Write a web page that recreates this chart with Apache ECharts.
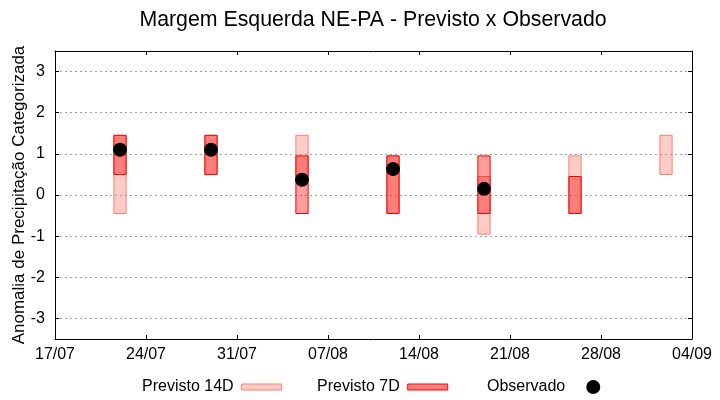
<!DOCTYPE html>
<html>
<head>
<meta charset="utf-8">
<script src="https://cdn.jsdelivr.net/npm/echarts@6/dist/echarts.min.js"></script>
<style>html,body{margin:0;padding:0;background:#fff}#c{width:720px;height:400px}</style>
</head>
<body>
<div id="c"></div>
<script>
const startDate = '17/07';
const endDate = '04/09';
const dates = ['22/07', '29/07', '05/08', '12/08', '19/08', '26/08', '02/09'];
const prev14Low  = [-0.45, 0.5, 0.45, -0.45, -0.95, -0.45, 0.5];
const prev14High = [1.45, 1.45, 1.45, 0.95, 0.45, 0.95, 1.45];
const prev7Low   = [0.5, 0.5, -0.45, -0.45, -0.45, -0.45, null];
const prev7High  = [1.45, 1.45, 0.95, 0.95, 0.95, 0.45, null];
const observed   = [1.10, 1.10, 0.37, 0.63, 0.15, null, null];

const YEAR = 2020;
function toDay(s) {
  const [d, m] = s.split('/').map(Number);
  return Date.UTC(YEAR, m - 1, d);
}
const t0 = toDay(startDate);
const DAY = 86400000;
const off = s => Math.round((toDay(s) - t0) / DAY);
const xMax = off(endDate);
function fmtDay(v) {
  const d = new Date(t0 + v * DAY);
  const dd = String(d.getUTCDate()).padStart(2, '0');
  const mm = String(d.getUTCMonth() + 1).padStart(2, '0');
  return dd + '/' + mm;
}

const data14 = dates.map((d, i) => [off(d), prev14Low[i], prev14High[i]]).filter(r => r[1] != null);
const data7 = dates.map((d, i) => [off(d), prev7Low[i], prev7High[i]]).filter(r => r[1] != null);
const dataObs = dates.map((d, i) => [off(d), observed[i]]).filter(r => r[1] != null);

const HALF = 0.47;
function boxRender(fill, stroke) {
  return function (params, api) {
    const x = api.value(0), lo = api.value(1), hi = api.value(2);
    const p1 = api.coord([x - HALF, hi]);
    const p2 = api.coord([x + HALF, lo]);
    return {
      type: 'rect',
      shape: { x: p1[0], y: p1[1], width: p2[0] - p1[0], height: p2[1] - p1[1] },
      style: { fill: fill, stroke: stroke, lineWidth: 1 }
    };
  };
}

const FONT = 'Liberation Sans, Arial, sans-serif';
const c14Fill = 'rgba(250,128,114,0.4)', c14Stroke = '#fa8072';
const c7Fill = 'rgba(255,0,0,0.38)', c7Stroke = '#ff0000';

const chart = echarts.init(document.getElementById('c'), null, { renderer: 'canvas' });
const gridLine = { show: true, lineStyle: { color: '#a0a0a0', width: 1, type: [2, 3] } };
const legendBase = { top: 379, padding: 0, align: 'right', selectedMode: false,
  textStyle: { fontFamily: FONT, fontSize: 16, color: '#000', padding: [0, 3, 0, 0] } };
chart.setOption({
  animation: false,
  backgroundColor: '#fff',
  textStyle: { fontFamily: FONT },
  title: {
    text: 'Margem Esquerda NE-PA - Previsto x Observado',
    left: 373, textAlign: 'center', top: 10, padding: 0,
    textStyle: { fontFamily: FONT, fontSize: 21.3, fontWeight: 'normal', color: '#000' }
  },
  legend: [
    Object.assign({}, legendBase, { left: 142, itemWidth: 40, itemHeight: 6,
      data: [{ name: 'Previsto 14D', icon: 'rect', itemStyle: { color: c14Fill, borderColor: c14Stroke, borderWidth: 1 } }] }),
    Object.assign({}, legendBase, { left: 317, itemWidth: 40, itemHeight: 6,
      data: [{ name: 'Previsto 7D', icon: 'rect', itemStyle: { color: 'rgba(255,0,0,0.5)', borderColor: c7Stroke, borderWidth: 1 } }] }),
    Object.assign({}, legendBase, { left: 487, itemWidth: 40, itemHeight: 14,
      data: [{ name: 'Observado', icon: 'circle', itemStyle: { color: '#000' } }] })
  ],
  grid: { left: 55, right: 28, top: 51, bottom: 61, containLabel: false, outerBoundsMode: 'none' },
  xAxis: [
    { type: 'value', min: 0, max: xMax, interval: 7, position: 'bottom',
      axisLine: { show: true, onZero: false, lineStyle: { color: '#000', width: 1 } },
      axisTick: { show: true, inside: true, length: 4, lineStyle: { color: '#000' } },
      axisLabel: { formatter: fmtDay, color: '#000', fontSize: 16, fontFamily: FONT, margin: 8 },
      splitLine: { show: false } },
    { type: 'value', min: 0, max: xMax, interval: 7, position: 'top',
      axisLine: { show: true, onZero: false, lineStyle: { color: '#000', width: 1 } },
      axisTick: { show: true, inside: true, length: 4, lineStyle: { color: '#000' } },
      axisLabel: { show: false }, splitLine: { show: false } }
  ],
  yAxis: [
    { type: 'value', min: -3.5, max: 3.5, splitNumber: 7, position: 'left',
      name: 'Anomalia de Precipitação Categorizada', nameLocation: 'middle', nameGap: 27,
      nameMoveOverlap: false,
      nameTextStyle: { fontFamily: FONT, fontSize: 17, color: '#000' },
      axisLine: { show: true, onZero: false, lineStyle: { color: '#000', width: 1 } },
      axisTick: { show: true, inside: true, length: 4, lineStyle: { color: '#000' } },
      axisLabel: { color: '#000', fontSize: 16, fontFamily: FONT, margin: 10,
        formatter: v => (Math.abs(v - Math.round(v)) < 1e-6 ? String(Math.round(v)) : '') },
      splitLine: gridLine },
    { type: 'value', min: -3.5, max: 3.5, splitNumber: 7, position: 'right',
      axisLine: { show: true, onZero: false, lineStyle: { color: '#000', width: 1 } },
      axisTick: { show: true, inside: true, length: 4, lineStyle: { color: '#000' } },
      axisLabel: { show: false }, splitLine: { show: false } }
  ],
  series: [
    { name: 'Previsto 14D', type: 'custom', xAxisIndex: 0, yAxisIndex: 0, data: data14,
      renderItem: boxRender(c14Fill, c14Stroke), z: 2 },
    { name: 'Previsto 7D', type: 'custom', xAxisIndex: 0, yAxisIndex: 0, data: data7,
      renderItem: boxRender(c7Fill, c7Stroke), z: 3 },
    { name: 'Observado', type: 'scatter', xAxisIndex: 0, yAxisIndex: 0, data: dataObs,
      symbol: 'circle', symbolSize: 14, itemStyle: { color: '#000', opacity: 1 }, z: 4 }
  ]
});
</script>
</body>
</html>
